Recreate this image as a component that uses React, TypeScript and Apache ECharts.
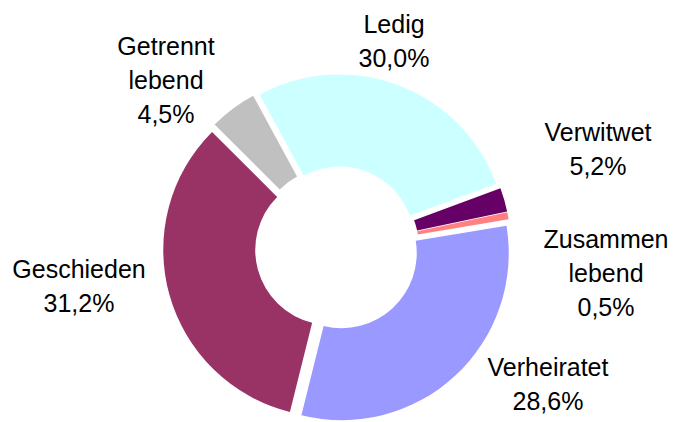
import React, { useEffect, useRef } from "react";
import * as echarts from "echarts";

// Categories (clockwise, starting with "Ledig")
const categories = ["Ledig", "Verwitwet", "Zusammen\nlebend", "Verheiratet", "Geschieden", "Getrennt\nlebend"];
// Slice shares as drawn in the reference (percent of the ring)
const sliceShares = [27.3, 2.3, 0.7, 31.5, 33.6, 4.6];
// Percentages printed in the labels
const labelPercents = ["30,0%", "5,2%", "0,5%", "28,6%", "31,2%", "4,5%"];
const colors = ["#CCFFFF", "#660066", "#FF8080", "#9999FF", "#993366", "#C0C0C0"];

// Label block centres (layout only)
const labelAnchors: [number, number][] = [
  [394, 41],
  [598, 149],
  [606, 273],
  [548, 384],
  [79, 286],
  [166, 80],
];

const FONT = "'Liberation Sans', Arial, Helvetica, sans-serif";

export default function App() {
  const ref = useRef<HTMLDivElement>(null);
  useEffect(() => {
    if (!ref.current) return;
    const chart = echarts.init(ref.current, undefined, { renderer: "svg" });
    chart.setOption({
      animation: false,
      backgroundColor: "#ffffff",
      graphic: categories.map((name, i) => ({
        type: "text",
        x: labelAnchors[i][0],
        y: labelAnchors[i][1],
        silent: true,
        style: {
          text: `${name}\n${labelPercents[i]}`,
          fill: "#000000",
          fontFamily: FONT,
          fontSize: 25,
          lineHeight: 34,
          align: "center",
          verticalAlign: "middle",
        },
      })),
      series: [
        {
          type: "pie",
          center: [337, 248],
          radius: [75, 167],
          startAngle: 118.5,
          clockwise: true,
          selectedMode: "multiple",
          selectedOffset: 7,
          avoidLabelOverlap: false,
          emphasis: { disabled: true },
          itemStyle: { borderWidth: 0 },
          label: { show: false },
          labelLine: { show: false },
          data: categories.map((name, i) => ({
            name,
            value: sliceShares[i],
            selected: true,
            itemStyle: { color: colors[i] },
          })),
        },
      ],
    });
    return () => chart.dispose();
  }, []);
  return (
    <div
      ref={ref}
      style={{ position: "fixed", left: 0, top: 0, width: 674, height: 422, background: "#fff" }}
    />
  );
}
